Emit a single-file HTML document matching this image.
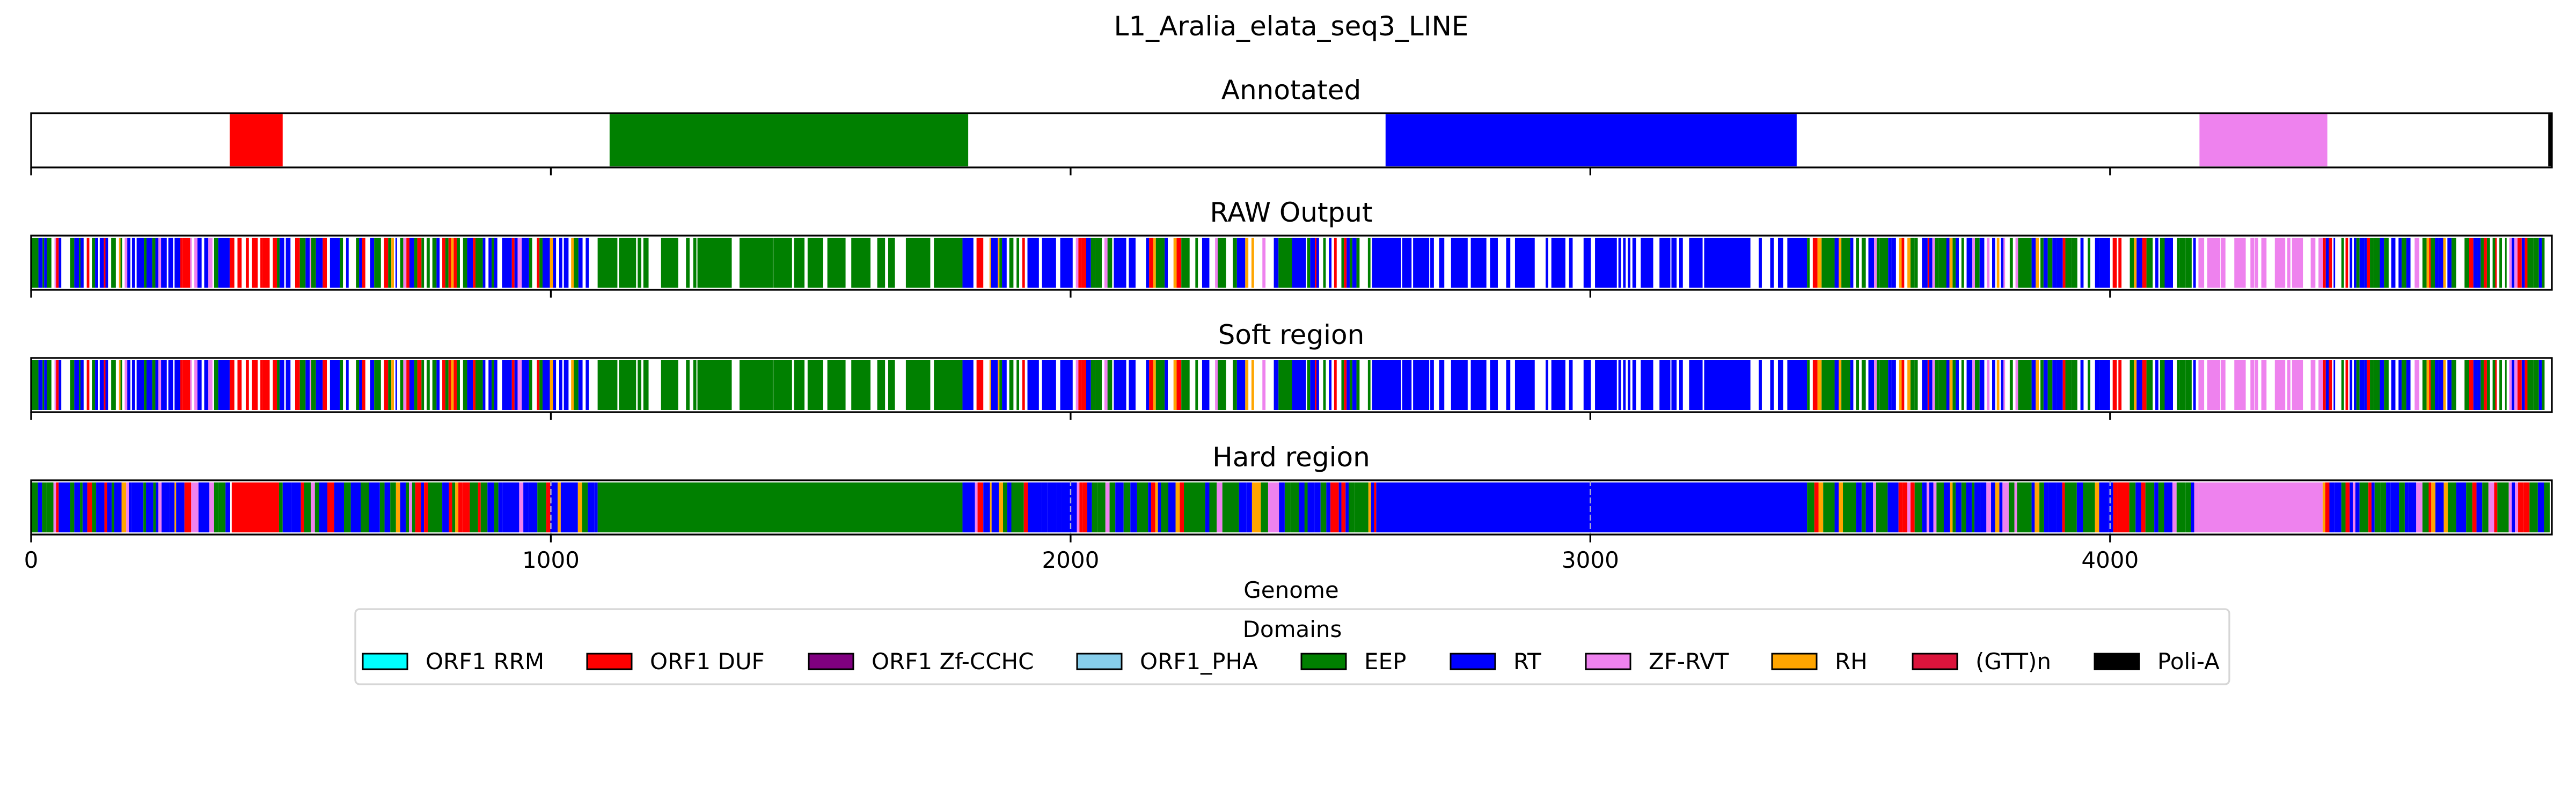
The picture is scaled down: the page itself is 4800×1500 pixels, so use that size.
<!DOCTYPE html>
<html><head><meta charset="utf-8"><title>L1_Aralia_elata_seq3_LINE</title>
<style>html,body{margin:0;padding:0;background:#fff}svg{display:block}text{font-family:"DejaVu Sans","Liberation Sans",sans-serif;fill:#000}</style>
</head><body>
<svg id="chart" xmlns="http://www.w3.org/2000/svg" width="4800" height="1500" viewBox="0 0 4800 1500">
<rect width="4800" height="1500" fill="#fff"/>
<text x="2406" y="66" font-size="50" text-anchor="middle">L1_Aralia_elata_seq3_LINE</text>
<g id="rows"></g>
<text x="2406" y="1114" font-size="42" text-anchor="middle">Genome</text>
<g id="legend"></g>
</svg>
<script>
const domainNames = ["ORF1 RRM","ORF1 DUF","ORF1 Zf-CCHC","ORF1_PHA","EEP","RT","ZF-RVT","RH","(GTT)n","Poli-A"];
const domainCodes = ["Y","R","M","S","G","B","P","O","C","K"];
const domainColors = ["#00ffff","#ff0000","#800080","#87ceeb","#008000","#0000ff","#ee82ee","#ffa500","#dc143c","#000000"];
const xTicks = [0,1000,2000,3000,4000];
const xMax = 4850;
const rowTitles = ["Annotated","RAW Output","Soft region","Hard region"];

const annotatedTokens = "@382 R102 @1113 G690 @2606 B791 @4172 P246 @4843 K7";

const rawTokens =
"@0 G14 B8 G3 B5 G9 W6 P3 R5 B5 W17 G8 B9 G3 B6 W6 R5 W5 G6 B6 W3 B8 R3 B5 W6 G9 W6 O3 G3 W5 P5 B6 W3 B6 W3 B14 G5 B11 G6 B6 P5 B11 W3 B9 W3 B11 R5 R14 P3 W5 P6 B8 W5 B8 P8 W3 G8 B22 R9 W6 R8 W8 R6 W6 R11 W5 R5 R13 W6 R8 G5 B9 W3 B9 W9 R9 G11 B8 P3 G9 B13 R8 W6 B19 G6 W6 B5 W14 G6 B6 R6 W9 B8 G13 W6 R8 G6 O5 W3 B3 W6 G6 P6 R6 B9 G6 R8 G5 W5 G6 W5 G8 B6 W5 R6 G6 R5 O5 R6 G6 W6 G8 B11 R5 G14 B5 W6 B6 G5 B6 W9 B19 R5 B6 P8 B14 G6 W9 R5 G6 B14 O6 B6 W6 B6 W3 B9 W5 O5 G9 B8 W6 B6 " +
"@1090 G38 W3 G33 W3 G7 W4 G10 W24 G33 W15 G7 W7 G6 W2 G66 W15 G64 W1 G36 W4 G20 W6 G30 W8 G35 W11 G37 W13 G15 W6 G13 W21 G47 W7 G55 " +
"@1792 B21 W6 R13 W3 W9 O3 B13 O3 G5 B9 W5 G8 W6 G5 W6 R5 W5 B22 W6 B27 W8 B24 W6 P5 R5 R10 B9 G8 G13 W5 P6 G9 W3 B24 W5 B13 W20 B6 R8 O5 G17 B6 W11 O6 R9 G16 W11 G5 W8 B14 W11 P5 G16 W13 G8 B16 O6 W6 O5 W12 W4 P6 W16 B9 G9 G17 B27 " +
"@2455 G6 B9 R3 B5 W8 G5 W6 B5 W5 R5 W9 G5 R5 B6 G5 B8 G6 W16 G5 W3 O5 " +
"@2580 B56 W2 B18 W3 B31 W2 B7 W10 B10 W13 B32 W6 B30 W7 B15 W16 B8 W9 B38 W21 B5 W6 B27 W7 B7 W21 B14 W8 B42 W3 B5 W4 B5 W4 B5 W4 B7 W9 B24 W12 B21 W2 B10 W5 B7 W12 B26 W3 B89 W16 B6 W16 B7 W8 B10 W8 B38 " +
"@3417 G5 W6 R9 O8 G25 B8 O5 G17 B6 W5 G6 W5 G8 W5 B11 P5 G6 G16 B6 B9 W6 O5 R5 W6 O6 G8 G6 W8 B11 R3 B6 P5 G6 G19 " +
"@3680 G5 B6 O6 G6 B6 W5 G5 W5 B11 P5 G9 B9 W5 P5 W5 B6 W3 O5 W3 B5 P3 W9 G6 W5 P5 G26 B8 O6 W3 G6 B8 G9 B8 B12 R5 G12 G11 W6 B6 W8 G5 W9 B9 B20 W5 R8 W3 R6 W16 G8 O5 B11 R8 G12 W5 B6 W3 G9 B16 W8 G5 G11 G12 W3 B5 W6 " +
"@4170 P11 W6 P25 W1 P9 W17 P22 W9 P7 W1 P7 W6 P10 W16 P20 W4 P6 W3 P21 W15 P9 W6 P9 " +
"@4410 R5 B6 R6 W3 B3 W12 G5 W3 R5 W3 B5 W3 B5 G6 B9 B5 R6 G8 G11 B8 G9 W5 B8 W6 B6 G9 B8 W8 P9 W6 G8 O5 R3 G8 B8 B8 O5 W3 B8 G9 W16 G9 R8 B8 B6 G6 R6 G6 W5 G5 R3 W5 G5 W6 G3 W5 P5 B5 P6 R8 B6 R5 G11 G11 B6 G5 W5";

const softTokens = rawTokens;

const hardTokens =
"@0 G13 B8 G8 G14 P5 R5 B22 G8 B11 G5 B9 R9 G8 B16 R5 B9 G5 B14 O9 P5 B6 B22 G5 B14 G5 B5 P6 B16 B9 O3 B16 R13 P5 P9 B21 P9 G9 G13 B9 " +
"@386 R91 G7 B16 B19 R6 G13 P8 G8 B16 R13 B19 G13 B19 G16 B21 G9 B11 G11 O8 B11 G6 P6 G6 R11 B6 R8 G27 B13 R6 G6 O6 R8 R14 G16 R5 G13 B13 G8 B8 B13 B19 P8 B11 B16 G17 R8 B14 O6 B33 O8 G11 B13 B6 " +
"@1090 G702 " +
"@1792 B24 P5 R11 B13 O3 B14 O8 G8 B8 G24 R8 B27 B10 B19 B8 B21 B9 P5 R5 R10 B9 G10 G16 P8 G11 B16 G13 B13 G21 B6 R8 O5 B6 G14 B14 O8 R8 G41 B8 G14 P11 G32 B14 B11 O17 G14 P21 B11 G11 G16 B25 " +
"@2450 G6 B13 B12 G11 B8 R16 B5 R8 B6 G11 G27 O5 B6 R4 " +
"@2588 B829 " +
"@3417 G14 R8 O9 G22 B8 O8 G25 B11 G8 B14 P6 G22 B21 R8 R9 P6 R8 G14 B9 P5 B8 P6 G22 " +
"@3680 B12 O5 G6 B11 G9 B11 G5 B11 B12 P9 B8 O8 B6 P12 G11 P5 G28 B6 O9 G9 B8 B16 B11 R5 G23 B12 G23 O8 B19 B8 R9 R22 G12 B11 R8 G17 B8 G11 B16 P8 G17 G11 B6 P8 " +
"@4170 P239 " +
"@4409 O5 R8 B9 B14 G8 R8 B6 P5 B8 G17 R6 B6 G11 G11 B9 B16 G11 B8 B14 P12 G12 R5 O8 B16 O8 G16 B19 G12 R8 B11 G12 P11 R6 G22 P6 B6 P6 R11 R11 G16 B12 G11";

const NS = "http://www.w3.org/2000/svg";
const X0 = 58, X1 = 4755;
const rowTops = [211, 439, 667, 895];
const rowH = 101;
function xScale(v){ return X0 + (v / xMax) * (X1 - X0); }
function mk(tag, attrs){ const e = document.createElementNS(NS, tag); for (const k in attrs) e.setAttribute(k, attrs[k]); return e; }

function parseTokens(str){
  const out = []; let pos = 0;
  str.trim().split(/\s+/).forEach(t => {
    if (t[0] === '@') { pos = +t.slice(1); return; }
    const c = t[0], n = +t.slice(1);
    if (c !== 'W') out.push([pos, Math.min(pos + n, xMax), c]);
    pos += n;
  });
  return out;
}

const rowsG = document.getElementById('rows');
const tokenSets = [annotatedTokens, rawTokens, softTokens, hardTokens];
const rowNames = ['annotated','raw-output','soft-region','hard-region'];

tokenSets.forEach((tok, ri) => {
  const top = rowTops[ri];
  const g = mk('g', {});
  
  
  rowsG.appendChild(g);
  const title = mk('text', {x: 2406, y: top - 26, 'font-size': 50, 'text-anchor': 'middle'});
  
  
  title.textContent = rowTitles[ri];
  g.appendChild(title);
  const inset = ri === 0 ? 2 : 4;
  parseTokens(tok).forEach(s => {
    const idx = domainCodes.indexOf(s[2]);
    const x = xScale(s[0]), w = xScale(s[1]) - x;
    const r = mk('rect', {x: x.toFixed(2), y: top + inset, width: Math.max(w, 0.5).toFixed(2), height: rowH - 2*inset, fill: domainColors[idx]});
    
    
    g.appendChild(r);
  });
  if (ri === 3) {
    xTicks.slice(1).forEach(t => {
      const l = mk('line', {x1: xScale(t), x2: xScale(t), y1: top, y2: top + rowH, stroke: '#b0b0d0', 'stroke-width': 2.5, 'stroke-dasharray': '11 5'});
      
      
      g.appendChild(l);
    });
  }
  const frame = mk('rect', {x: X0, y: top, width: X1 - X0, height: rowH, fill: 'none', stroke: '#000', 'stroke-width': 3.3});
  
  
  g.appendChild(frame);
  xTicks.forEach(t => {
    const tk = mk('line', {x1: xScale(t), x2: xScale(t), y1: top + rowH, y2: top + rowH + 14.6, stroke: '#000', 'stroke-width': 3.3});
    
    
    g.appendChild(tk);
    if (ri === 3) {
      const lb = mk('text', {x: xScale(t), y: top + rowH + 62, 'font-size': 42, 'text-anchor': 'middle'});
      
      
      lb.textContent = t;
      g.appendChild(lb);
    }
  });
});

const lg = document.getElementById('legend');
const box = mk('rect', {x: 662, y: 1135, width: 3492, height: 140, rx: 8, fill: '#fff', stroke: '#d6d6d6', 'stroke-width': 3.3});


lg.appendChild(box);
const lt = mk('text', {x: 2408, y: 1187, 'font-size': 42, 'text-anchor': 'middle'});


lt.textContent = 'Domains';
lg.appendChild(lt);
const legendX = [676, 1094, 1507, 2007, 2425, 2703, 2955, 3302, 3564, 3903];
domainNames.forEach((n, i) => {
  const e = mk('g', {});
  
  
  const p = mk('rect', {x: legendX[i], y: 1218, width: 83, height: 29, fill: domainColors[i], stroke: '#000', 'stroke-width': 3});
  
  
  const t = mk('text', {x: legendX[i] + 117, y: 1247, 'font-size': 42});
  
  
  t.textContent = n;
  e.appendChild(p); e.appendChild(t); lg.appendChild(e);
});
</script>
</body></html>
